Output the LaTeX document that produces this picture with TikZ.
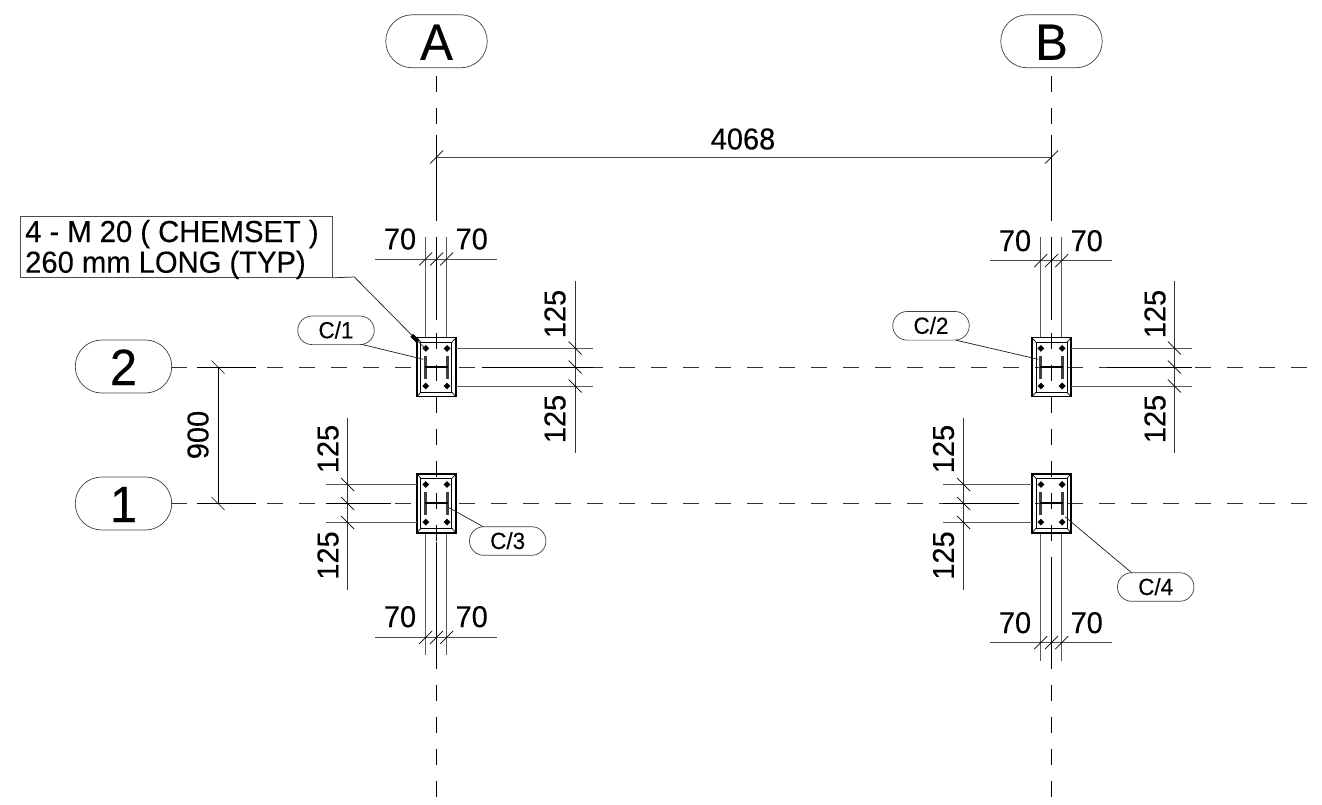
\documentclass[tikz,border=0pt]{standalone}
\usepackage{fontspec}
\setmainfont{Liberation Sans}[FakeStretch=0.96,RawFeature={embolden=0.25}]
\usetikzlibrary{shapes.misc}
\tikzset{
  x=1pt,y=-1pt,
  thin line/.style={line width=0.75pt,black!80},
  witness/.style={line width=0.9pt,black!65},
  dimline/.style={line width=0.85pt,black!70},
  tickmark/.style={line width=0.7pt,black},
  axis/.style={line width=0.9pt,black!80,dash pattern=on 16pt off 16pt},
  axisv/.style={line width=0.9pt,black,dash pattern=on 16pt off 16pt},
  solidc/.style={line width=0.9pt,black},
  gridbubble/.style={draw=black!75,line width=0.7pt,rounded rectangle,inner sep=0pt,minimum height=53pt,font=\fontsize{51}{51}\selectfont,text height=37pt,text depth=0pt},
  tagbubble/.style={draw=black!75,line width=0.7pt,rounded rectangle,inner sep=0pt,minimum width=76.5pt,minimum height=28.6pt,font=\fontsize{23.4}{23.4}\selectfont,text height=16pt,text depth=0pt},
  dimtext/.style={inner sep=0pt,font=\fontsize{30.2}{30.2}\selectfont,text height=20.8pt,text depth=0pt},
  plate/.style={draw=black,line width=1.5pt,minimum width=39.3pt,minimum height=59pt,inner sep=0pt},
  leader/.style={line width=0.75pt,black!85},
}
% tick helpers
\newcommand{\tickF}[2]{\draw[tickmark] (#1-6.5,#2+6.5) -- (#1+6.5,#2-6.5);}
\newcommand{\tickB}[2]{\draw[tickmark] (#1-6.5,#2-6.5) -- (#1+6.5,#2+6.5);}
% base plate: name, centre x, centre y
\newcommand{\baseplate}[3]{%
  \node[plate] (#1) at (#2,#3) {};
  \begin{scope}[shift={(#2,#3)}]
    \draw[line width=0.9pt] (-15.5,-25) rectangle (15.5,25);
    \draw[line width=0.7pt] (-19.6,-29.5) -- (-15.5,-25) (19.6,-29.5) -- (15.5,-25)
                            (-19.6,29.5) -- (-15.5,25) (19.6,29.5) -- (15.5,25);
    \foreach \bx in {-10.6,10.6}{\foreach \by in {-18.8,18.8}{
      \fill (\bx-3.4,\by) -- (\bx,\by-3.4) -- (\bx+3.4,\by) -- (\bx,\by+3.4) -- cycle;
    }}
    \draw[line width=2.6pt,black!75] (-11.2,-11.4) -- (-11.2,11.4) (11.2,-11.4) -- (11.2,11.4);
    \draw[line width=1.8pt] (-11.2,0) -- (11.2,0);
  \end{scope}
}
% vertical 70/70 dimension: centre x, dim y, witness from, witness to, text y, prefix
\newcommand{\dimV}[6]{%
  \draw[witness] (#1-10.8,#3) -- (#1-10.8,#4) (#1+10.2,#3) -- (#1+10.2,#4);
  \draw[dimline] (#1-61.5,#2) -- (#1+60.5,#2);
  \tickF{#1-10.8}{#2}\tickF{#1}{#2}\tickF{#1+10.2}{#2}
  \node[dimtext] (#6l) at (#1-36.5,#5) {70};
  \node[dimtext] (#6r) at (#1+35.2,#5) {70};
}
% horizontal 125/125 dimension:
% dim x, row y, witness near x, witness far x, centre-witness start x, text x, prefix, top offset
\newcommand{\dimH}[8]{%
  \draw[witness] (#3,#2-19) -- (#4,#2-19) (#3,#2+19) -- (#4,#2+19);
  \draw[solidc] (#5,#2) -- (#4,#2);
  \draw[thin line] (#1,#2-86) -- (#1,#2+86);
  \tickB{#1}{#2-19}\tickB{#1}{#2}\tickB{#1}{#2+19}
  \node[dimtext,rotate=90] (#7t) at (#6,#2-#8) {125};
  \node[dimtext,rotate=90] (#7b) at (#6,#2+52) {125};
}
\begin{document}
\begin{tikzpicture}
\useasboundingbox (0,0) rectangle (1322,805);
% grid bubbles
\node[gridbubble,minimum width=101.5pt] (gA) at (436.5,41.3) {A};
\node[gridbubble,minimum width=101.5pt] (gB) at (1051.5,41.3) {B};
\node[gridbubble,minimum width=96.5pt] (g2) at (123.5,366.5) {2};
\node[gridbubble,minimum width=96.5pt] (g1) at (123.5,503.5) {1};
% axes
\coordinate (aAt) at (436.5,76.5); \coordinate (aAb) at (436.5,797);
\coordinate (aBt) at (1051.5,76.5); \coordinate (aBb) at (1051.5,797);
\coordinate (a2l) at (171,367); \coordinate (a2r) at (1308,367);
\coordinate (a1l) at (171,503.5); \coordinate (a1r) at (1308,503.5);
\draw[axisv] (aAt) -- (aAb);
\draw[axisv] (aBt) -- (aBb);
\draw[axis] (a2l) -- (a2r);
\draw[axis] (a1l) -- (a1r);
% solid witness parts of the axes
\draw[solidc] (436.5,135) -- (436.5,220) (436.5,237) -- (436.5,320) (436.5,542) -- (436.5,662);
\draw[solidc] (1051.5,135) -- (1051.5,220) (1051.5,237) -- (1051.5,320) (1051.5,573) -- (1051.5,668);
\draw[solidc] (197,367) -- (256,367) (197,503.5) -- (256,503.5);
% 4068
\draw[dimline] (436.5,157) -- (1051.5,157);
\tickF{436.5}{157}\tickF{1051.5}{157}
\node[dimtext] (d4068) at (743,139) {4068};
% 900
\draw[solidc] (218,367) -- (218,503.5);
\tickB{218}{367}\tickB{218}{503.5}
\node[dimtext,rotate=90] (d900) at (198,435) {900};
% base plates
\baseplate{p1}{436.4}{367.2}
\baseplate{p2}{1051.5}{367.2}
\baseplate{p3}{436.4}{503.3}
\baseplate{p4}{1051.5}{503.3}
% dimensions
\dimV{436.5}{259}{237}{337}{239}{va}
\dimV{1051.5}{260.7}{237}{337}{240.7}{vb}
\dimV{436.5}{637.3}{534}{655}{616.7}{vc}
\dimV{1051.5}{642.7}{534}{661}{622.7}{vd}
\dimH{575}{367}{456}{593}{482}{555}{ha}{53}
\dimH{1174.3}{367}{1071}{1192}{1107}{1155}{hb}{53}
\dimH{347.7}{503.5}{417}{326}{391}{328}{hc}{54.5}
\dimH{963.7}{503.5}{1032}{943}{1019}{943.5}{hd}{54.5}
% column tags
\node[tagbubble] (c1) at (336,330.3) {C/1};
\node[tagbubble] (c2) at (931,325.8) {C/2};
\node[tagbubble] (c3) at (507.7,541) {C/3};
\node[tagbubble] (c4) at (1155.7,587) {C/4};
\coordinate (l1) at (423.3,359.3);
\coordinate (l2) at (1038.3,359.3);
\coordinate (l3) at (448.3,507.3);
\coordinate (l4) at (1065,516.7);
\coordinate (s1) at (361.7,344.4);
\coordinate (s2) at (956,340.2);
\coordinate (s3) at (483.3,526.8);
\coordinate (s4) at (1131.7,572.8);
\draw[leader] (s1) -- (l1);
\draw[leader] (s2) -- (l2);
\draw[leader] (s3) -- (l3);
\draw[leader] (s4) -- (l4);
% note
\node[draw=black!70,line width=0.8pt,anchor=north west,inner sep=0pt,minimum width=312pt,minimum height=61pt] (note) at (20,216) {};
\node[anchor=base west,inner sep=0pt,font=\fontsize{30.4}{30.4}\selectfont] (n1) at (25,242) {4 - M 20 ( CHEMSET )};
\node[anchor=base west,inner sep=0pt,font=\fontsize{30.4}{30.4}\selectfont] (n2) at (25,272.7) {260 mm LONG (TYP)};
\coordinate (nb) at (354.3,277);
\coordinate (nt) at (425.5,349);
\coordinate (nw1) at (411.7,335.3);
\coordinate (nw2) at (418,341.5);
\draw[leader] (note.south east) -- (nb) -- (nt);
\draw[line width=4pt] (nw1) -- (nw2);
\end{tikzpicture}
\end{document}
